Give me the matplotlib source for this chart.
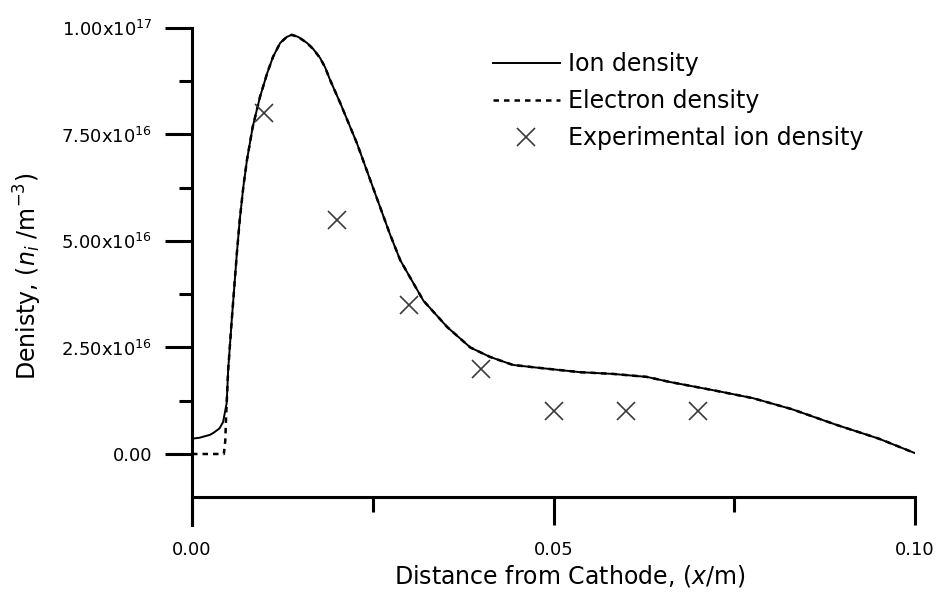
import numpy as np
import matplotlib
matplotlib.use("Agg")
import matplotlib.pyplot as plt
from matplotlib.ticker import FixedLocator, FuncFormatter

plt.rcParams['font.family'] = ['DejaVu Sans']
plt.rcParams['mathtext.fontset'] = 'dejavusans'

# ion density curve (x in m, density in 1e16 m^-3)
ion_x = [0, 0.001, 0.0025, 0.003, 0.0038, 0.0043, 0.0048, 0.0050, 0.0055, 0.0062,
         0.0066, 0.0071, 0.0076, 0.0084, 0.0094, 0.0104, 0.0112, 0.0122, 0.0131,
         0.0138, 0.0147, 0.0159, 0.0168, 0.0177, 0.0184, 0.0191, 0.0205, 0.0228,
         0.0250, 0.0274, 0.0288, 0.0320, 0.0353, 0.0385, 0.0412, 0.0444, 0.0481,
         0.0537, 0.0582, 0.0629, 0.0661, 0.0720, 0.0776, 0.0830, 0.0892, 0.0950, 0.1000]
ion_y = [0.36, 0.38, 0.45, 0.5, 0.6, 0.75, 1.2, 1.97, 3.15, 4.7,
         5.49, 6.27, 6.9, 7.68, 8.38, 8.94, 9.32, 9.65, 9.79,
         9.84, 9.79, 9.65, 9.5, 9.3, 9.08, 8.78, 8.24, 7.3,
         6.27, 5.15, 4.55, 3.6, 2.98, 2.5, 2.28, 2.09, 2.02,
         1.92, 1.88, 1.81, 1.69, 1.5, 1.31, 1.05, 0.68, 0.36, 0.02]

# electron density: zero near the cathode, then follows the ion curve
elec_x_start = [0, 0.0044, 0.0046, 0.0047]
elec_y_start = [0, 0, 0.3, 0.8]

# experimental points
exp_x = [0.01, 0.02, 0.03, 0.04, 0.05, 0.06, 0.07]
exp_y = [8.0, 5.5, 3.5, 2.0, 1.0, 1.0, 1.0]

ion_x = np.array(ion_x)
ion_y = np.array(ion_y) * 1e16
elec_x = np.concatenate([elec_x_start, ion_x[6:]])
elec_y = np.concatenate([np.array(elec_y_start) * 1e16, ion_y[6:]])
exp_y = np.array(exp_y) * 1e16

fig = plt.figure(figsize=(9.39, 6.01), dpi=100)
ax = fig.add_axes([192 / 939, 1 - 525 / 601, 723 / 939, 497 / 601])

ax.plot(ion_x, ion_y, color='black', lw=1.4, label='Ion density')
ax.plot(elec_x, elec_y, color='black', lw=1.8, ls=(0, (2.2, 2.0)), label='Electron density')
ax.plot(exp_x, exp_y, ls='none', marker='x', ms=13, mew=1.2, color='#3a3a3a',
        label='Experimental ion density')

ax.set_xlim(0, 0.1)
ax.set_ylim(-1.667e16, 1e17)

for s in ['top', 'right']:
    ax.spines[s].set_visible(False)
ax.spines['bottom'].set_position(('data', -1e16))
ax.spines['bottom'].set_linewidth(2.2)
ax.spines['left'].set_linewidth(2.2)

ax.xaxis.set_major_locator(FixedLocator([0, 0.05, 0.1]))
ax.xaxis.set_minor_locator(FixedLocator([0.025, 0.075]))
ax.yaxis.set_major_locator(FixedLocator([0, 2.5e16, 5e16, 7.5e16, 1e17]))
ax.yaxis.set_minor_locator(FixedLocator([1.25e16, 3.75e16, 6.25e16, 8.75e16]))


def yfmt(v, pos):
    if v == 0:
        return '0.00'
    e = int(np.floor(np.log10(v)))
    return '%.2fx10$^{%d}$' % (v / 10 ** e, e)


ax.xaxis.set_major_formatter(FuncFormatter(lambda v, p: '%.2f' % v))
ax.yaxis.set_major_formatter(FuncFormatter(yfmt))

ax.tick_params(axis='x', which='major', direction='out', length=20, width=2.2, labelsize=13, pad=12)
ax.tick_params(axis='x', which='minor', direction='out', length=11, width=2.2)
ax.tick_params(axis='y', which='major', direction='out', length=19.5, width=2.2, labelsize=13, pad=9)
ax.tick_params(axis='y', which='minor', direction='out', length=9.5, width=2.2)

ax.set_xlabel('Distance from Cathode, ($x$/m)', fontsize=17)
ax.set_ylabel('Denisty, ($n_i$ /m$^{-3}$)', fontsize=17)
ax.xaxis.set_label_coords(0.522, -0.076)
ax.yaxis.set_label_coords(-0.205, 0.5)

ax.legend(loc='upper left', bbox_to_anchor=(0.416, 0.951), frameon=False, fontsize=17,
          borderpad=0, borderaxespad=0, handlelength=2.84, handletextpad=0.35,
          labelspacing=0.55)

fig.savefig('out.png', dpi=100)
